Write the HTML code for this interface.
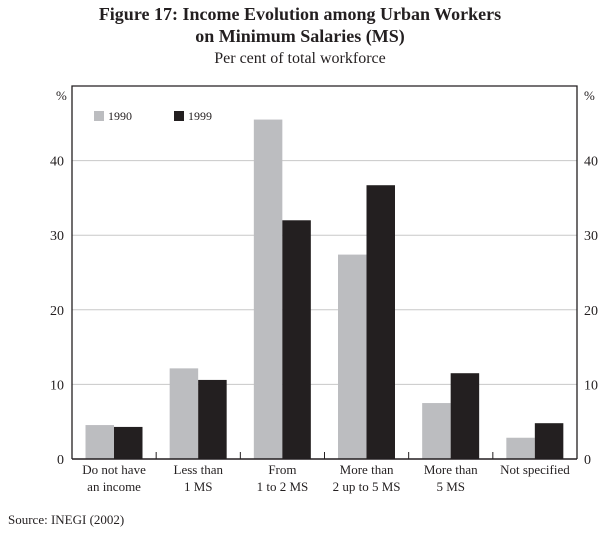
<!DOCTYPE html>
<html><head><meta charset="utf-8"><style>
body{margin:0;background:#fff;}
svg text{font-family:"Liberation Serif",serif;fill:#231f20;}
</style></head><body>
<svg width="600" height="528" viewBox="0 0 600 528">
<text x="300" y="20" text-anchor="middle" font-size="18" font-weight="bold">Figure 17: Income Evolution among Urban Workers</text>
<text x="300" y="42" text-anchor="middle" font-size="18" font-weight="bold">on Minimum Salaries (MS)</text>
<text x="300" y="63" text-anchor="middle" font-size="16">Per cent of total workforce</text>
<g id="plot"></g>
<text x="8" y="524" font-size="13">Source: INEGI (2002)</text>
</svg>
<script>
const categories=[["Do not have","an income"],["Less than","1 MS"],["From","1 to 2 MS"],["More than","2 up to 5 MS"],["More than","5 MS"],["Not specified",""]];
const values1990=[4.55,12.15,45.5,27.4,7.5,2.85];
const values1999=[4.3,10.6,32.0,36.7,11.5,4.8];
const yTicks=[0,10,20,30,40];
const seriesNames=["1990","1999"];

const L=72,R=577,T=86,B=459,YMAX=50;
const ns="http://www.w3.org/2000/svg";
const g=document.getElementById('plot');
const y=v=>B-(v/YMAX)*(B-T);
const pitch=(R-L)/categories.length;
const xg=i=>L+i*pitch;
function mk(tag,attrs,parent){const e=document.createElementNS(ns,tag);for(const k in attrs)e.setAttribute(k,attrs[k]);(parent||g).appendChild(e);return e;}

yTicks.forEach(t=>{
  if(t>0){const gl=mk('line',{x1:L,x2:R,y1:y(t),y2:y(t),stroke:'#c8c8c8','stroke-width':1});
  
  }
  const a=mk('text',{x:64,y:y(t)+5,'text-anchor':'end','font-size':14});a.textContent=t;
  
  
  const b=mk('text',{x:584,y:y(t)+5,'font-size':14});b.textContent=t;
  
  
});
const p1=mk('text',{x:56,y:100,'font-size':13});p1.textContent='%';


const p2=mk('text',{x:584,y:100,'font-size':13});p2.textContent='%';



categories.forEach((c,i)=>{
  const x0=xg(i)+13.5;
  const r1=mk('rect',{x:x0,y:y(values1990[i]),width:28.5,height:B-y(values1990[i]),fill:'#bcbdc0'});
  
  
  const r2=mk('rect',{x:x0+28.5,y:y(values1999[i]),width:28.5,height:B-y(values1999[i]),fill:'#231f20'});
  
  
  if(i>0){const tk=mk('line',{x1:xg(i),x2:xg(i),y1:B,y2:B-7,stroke:'#231f20','stroke-width':1});
  
  }
  const cx=xg(i)+pitch/2;
  c.forEach((ln,j)=>{if(!ln)return;const t=mk('text',{x:cx,y:474+j*17,'text-anchor':'middle','font-size':13});t.textContent=ln;
  
  });
});
const fr=mk('path',{d:`M${L},${B}V${T}H${R}V${B}`,fill:'none',stroke:'#231f20','stroke-width':1.3});


const ax=mk('line',{x1:L,x2:R,y1:B,y2:B,stroke:'#231f20','stroke-width':1.5});



const lg=[[94,'#bcbdc0'],[174,'#231f20']];
lg.forEach((l,i)=>{
  const s=mk('rect',{x:l[0],y:111,width:10,height:10,fill:l[1]});
  
  
  const t=mk('text',{x:l[0]+14,y:120,'font-size':12});t.textContent=seriesNames[i];
  
  
});
</script>
</body></html>
